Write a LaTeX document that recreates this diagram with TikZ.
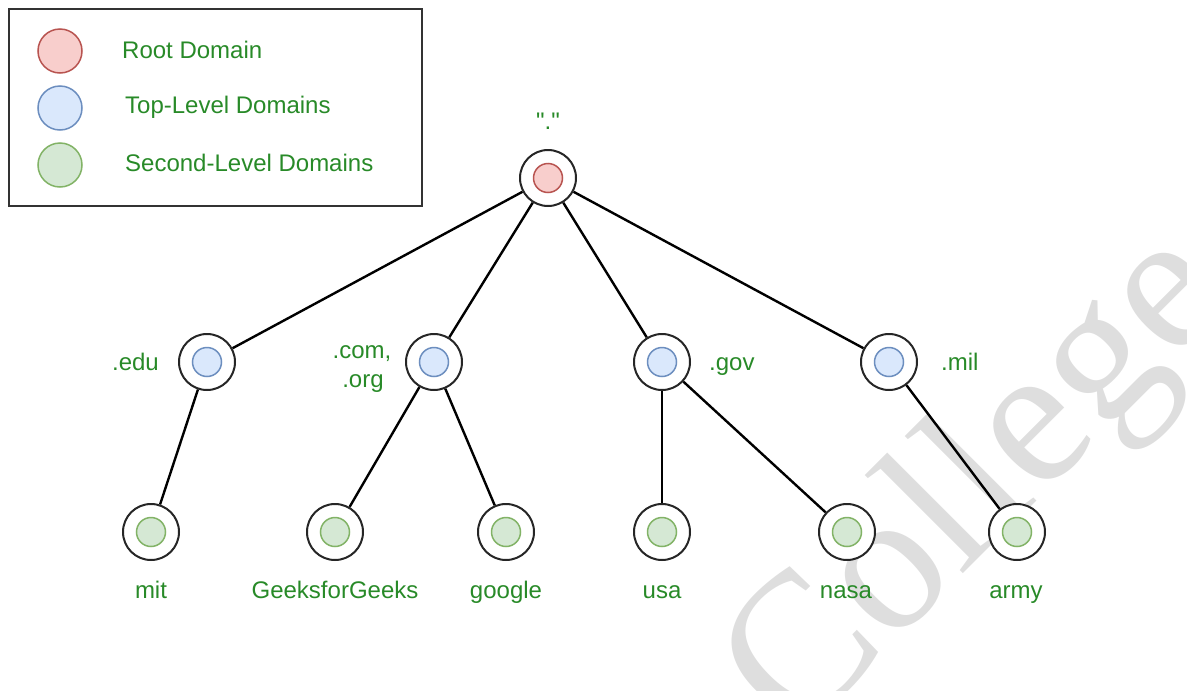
\documentclass[tikz,border=0pt]{standalone}
\usepackage{fontspec}
\setmainfont{Liberation Sans}
\newfontfamily\wmfont{Liberation Serif}
\definecolor{txtgreen}{RGB}{40,138,40}
\definecolor{rootfill}{HTML}{F8CECC}
\definecolor{rootline}{HTML}{B85450}
\definecolor{tldfill}{HTML}{DAE8FC}
\definecolor{tldline}{HTML}{6C8EBF}
\definecolor{sldfill}{HTML}{D5E8D4}
\definecolor{sldline}{HTML}{82B366}
\begin{document}
\begin{tikzpicture}[x=1pt,y=-1pt,
  outer/.style={circle,draw=black!85,line width=2pt,fill=white,minimum size=56pt,inner sep=0pt},
  dot/.style={circle,line width=1.5pt,minimum size=29pt,inner sep=0pt},
  rootdot/.style={dot,draw=rootline,fill=rootfill},
  tlddot/.style={dot,draw=tldline,fill=tldfill},
  slddot/.style={dot,draw=sldline,fill=sldfill},
  legdot/.style={circle,line width=1.5pt,minimum size=44pt,inner sep=0pt},
  lbl/.style={text=txtgreen,font=\fontsize{24}{30}\selectfont,inner sep=0pt},
  edge/.style={line width=2.4pt,black}]
\useasboundingbox (0,0) rectangle (1187,691);
% watermark
\begin{scope}
\clip (0,0) rectangle (1187,691);
\node[rotate=45,text=black!13,font=\wmfont\fontsize{200}{200}\selectfont,inner sep=0pt] (wm) at (982,488) {College};
\end{scope}
% legend
\node[draw=black!80,line width=1.5pt,minimum width=413pt,minimum height=197pt,anchor=north west,inner sep=0pt] (legend) at (8,8) {};
\node[legdot,draw=rootline,fill=rootfill] (lr) at (60,51) {};
\node[legdot,draw=tldline,fill=tldfill] (lt) at (60,108) {};
\node[legdot,draw=sldline,fill=sldfill] (ls) at (60,165) {};
\node[lbl,anchor=west] (lrt) at (122,50) {Root Domain};
\node[lbl,anchor=west] (ltt) at (125,107) {Top-Level Domains};
\node[lbl,anchor=west] (lst) at (125,163) {Second-Level Domains};
% nodes
\node[outer] (root) at (548,178) {};
\node[outer] (edu) at (207,362) {};
\node[outer] (com) at (434,362) {};
\node[outer] (gov) at (662,362) {};
\node[outer] (mil) at (889,362) {};
\node[outer] (mit) at (151,532) {};
\node[outer] (gfg) at (335,532) {};
\node[outer] (goo) at (506,532) {};
\node[outer] (usa) at (662,532) {};
\node[outer] (nasa) at (847,532) {};
\node[outer] (army) at (1017,532) {};
% edges
\draw[edge] (root) -- (edu);
\draw[edge] (root) -- (com);
\draw[edge] (root) -- (gov);
\draw[edge] (root) -- (mil);
\draw[edge] (edu) -- (mit);
\draw[edge] (com) -- (gfg);
\draw[edge] (com) -- (goo);
\draw[edge] (gov) -- (usa);
\draw[edge] (gov) -- (nasa);
\draw[edge] (mil) -- (army);
% inner dots
\node[rootdot] (rootd) at (root) {};
\node[tlddot] (edud) at (edu) {};
\node[tlddot] (comd) at (com) {};
\node[tlddot] (govd) at (gov) {};
\node[tlddot] (mild) at (mil) {};
\node[slddot] (mitd) at (mit) {};
\node[slddot] (gfgd) at (gfg) {};
\node[slddot] (good) at (goo) {};
\node[slddot] (usad) at (usa) {};
\node[slddot] (nasad) at (nasa) {};
\node[slddot] (armyd) at (army) {};
% labels
\node[lbl,anchor=base] (rootl) at (548,129) {\textquotedbl.\textquotedbl};
\node[lbl,anchor=base east] (edul) at (159,370) {.edu};
\node[lbl,anchor=base] (coml) at (362,358) {.com,};
\node[lbl,anchor=base] (coml2) at (363,387) {.org};
\node[lbl,anchor=base west] (govl) at (709,370) {.gov};
\node[lbl,anchor=base west] (mill) at (941,370) {.mil};
\node[lbl,anchor=base] (mitl) at (151,598) {mit};
\node[lbl,anchor=base] (gfgl) at (335,598) {GeeksforGeeks};
\node[lbl,anchor=base] (gool) at (506,598) {google};
\node[lbl,anchor=base] (usal) at (662,598) {usa};
\node[lbl,anchor=base] (nasal) at (846,598) {nasa};
\node[lbl,anchor=base] (armyl) at (1016,598) {army};
\end{tikzpicture}
\end{document}
